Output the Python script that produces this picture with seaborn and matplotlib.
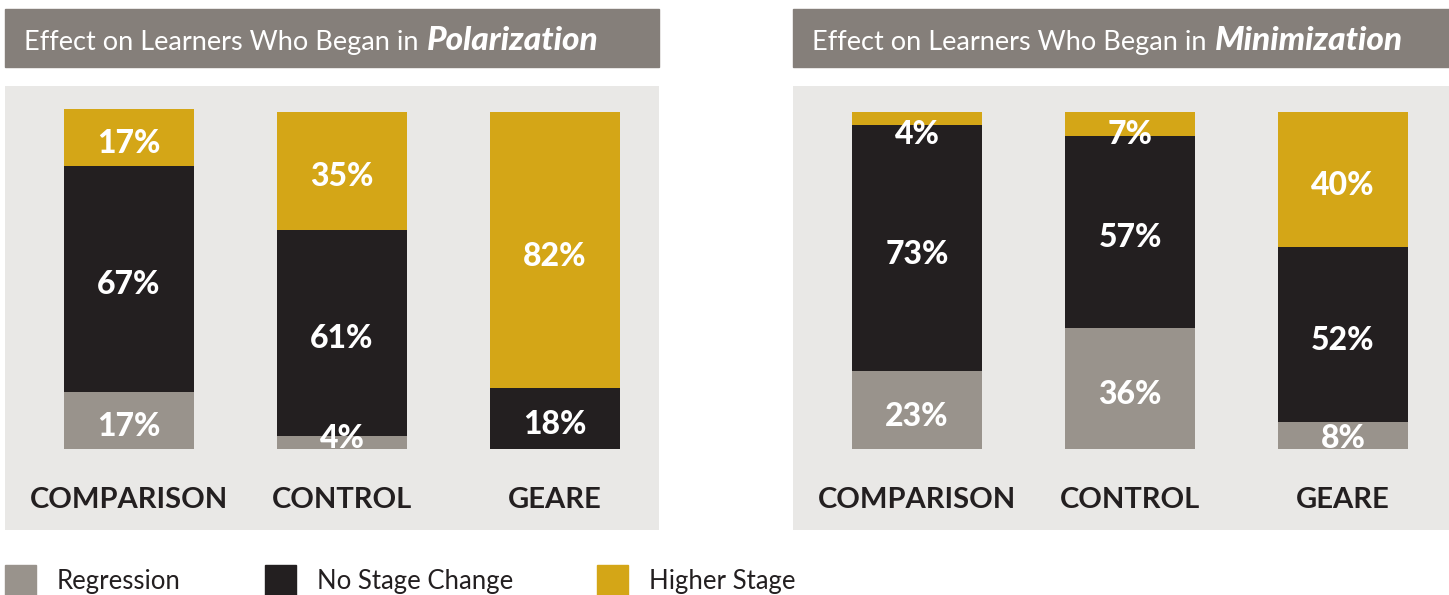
import numpy as np
import pandas as pd
import matplotlib
matplotlib.use("Agg")
import matplotlib.pyplot as plt
import seaborn as sns
from matplotlib.patches import Rectangle

# data
groups = ["COMPARISON", "CONTROL", "GEARE"]
stages = ["Regression", "No Stage Change", "Higher Stage"]

polar_regression = [17, 4, 0]
polar_no_change = [67, 61, 18]
polar_higher = [17, 35, 82]

minim_regression = [23, 36, 8]
minim_no_change = [73, 57, 52]
minim_higher = [4, 7, 40]

title_prefix = "Effect on Learners Who Began in"
panel_names = ["Polarization", "Minimization"]

stage_colors = {"Regression": "#99938c", "No Stage Change": "#231f20", "Higher Stage": "#d4a617"}
TITLE_BG = "#857f7a"
PANEL_BG = "#e9e8e6"
DARK = "#231f20"

sns.set_style("white")
plt.rcParams["font.family"] = ["Lato", "DejaVu Sans"]

W, H = 1449, 595
fig = plt.figure(figsize=(W / 100, H / 100), dpi=100)


def px_box(x0, y0, x1, y1):
    return [x0 / W, 1 - y1 / H, (x1 - x0) / W, (y1 - y0) / H]


def long_frame(reg, noc, hig):
    df = pd.DataFrame({"group": groups, "Regression": reg,
                       "No Stage Change": noc, "Higher Stage": hig})
    df = df.melt(id_vars="group", var_name="stage", value_name="pct")
    df["stage"] = pd.Categorical(df["stage"], stages, ordered=True)
    df = df.sort_values(["group", "stage"])
    df["top"] = df.groupby("group")["pct"].cumsum()
    df["bottom"] = df["top"] - df["pct"]
    return df


panels = [
    (5, 659, long_frame(polar_regression, polar_no_change, polar_higher)),
    (793, 1449, long_frame(minim_regression, minim_no_change, minim_higher)),
]

bar_px = 337  # pixel height of a 100% bar
spacing = 213
first_center = 124

titles = []
for (x0, x1, df), name in zip(panels, panel_names):
    # title strip
    fig.patches.append(Rectangle((x0 / W, 1 - 67 / H), (x1 - x0) / W, 58 / H,
                                 transform=fig.transFigure, color=TITLE_BG, zorder=0))
    t1 = fig.text((x0 + 19) / W, 1 - 50 / H, title_prefix, color="white",
                  fontsize=19.5, va="baseline", ha="left")
    titles.append((t1, name))

    ax = fig.add_axes(px_box(x0, 86, x1, 530))
    ax.set_facecolor(PANEL_BG)
    # stacked bars: draw cumulative heights from the top layer down
    for stage in reversed(stages):
        sub = df[df["stage"] == stage]
        sns.barplot(data=sub, x="group", y="top", order=groups, color=stage_colors[stage],
                    width=0.61, linewidth=0, errorbar=None, saturation=1, ax=ax)

    for _, r in df.iterrows():
        if r["pct"] <= 0:
            continue
        xi = groups.index(r["group"])
        yc = np.clip((r["top"] + r["bottom"]) / 2, 5, 95) - 1.0
        ax.text(xi, yc, f"{r['pct']}%", color="white", fontsize=23, fontweight="black",
                ha="center", va="center_baseline")

    for xi, g in enumerate(groups):
        ax.text(xi, -(497 - 449) / bar_px * 100, g, color=DARK, fontsize=21,
                fontweight="bold", ha="center", va="center_baseline")

    ax.set_xlim(-first_center / spacing, (x1 - x0 - first_center) / spacing)
    ax.set_ylim(-(530 - 449) / bar_px * 100, 100 + (112 - 86) / bar_px * 100)
    ax.set_xticks([])
    ax.set_yticks([])
    ax.set_xlabel("")
    ax.set_ylabel("")
    for s in ax.spines.values():
        s.set_visible(False)

# place the bold italic part of each title right after the plain part
fig.canvas.draw()
renderer = fig.canvas.get_renderer()
for t1, name in titles:
    bb = t1.get_window_extent(renderer)
    fig.text((bb.x1 + 8) / W, 1 - 50 / H, name, color="white", fontsize=24,
             fontweight="black", fontstyle="italic", va="baseline", ha="left")

# legend row
legend_x = [5, 265, 597]
for lx, stage in zip(legend_x, stages):
    fig.patches.append(Rectangle((lx / W, 1 - 595 / H), 31 / W, 30 / H,
                                 transform=fig.transFigure, color=stage_colors[stage]))
    fig.text((lx + 52) / W, 1 - 582 / H, stage, color=DARK, fontsize=18.5,
             va="center", ha="left")

fig.savefig("out.png", dpi=100)
